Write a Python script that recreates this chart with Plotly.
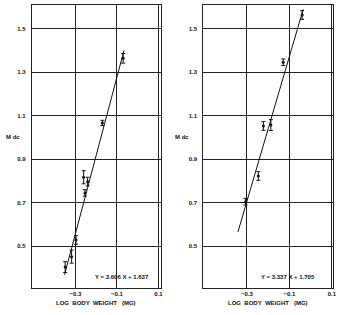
import plotly.graph_objects as go

# Left panel data
left_x = [-0.349, -0.318, -0.297, -0.260, -0.241, -0.254, -0.170, -0.070]
left_y = [0.403, 0.451, 0.528, 0.816, 0.796, 0.744, 1.066, 1.363]
left_err = [0.025, 0.03, 0.02, 0.03, 0.02, 0.015, 0.012, 0.022]
left_slope, left_icpt = 3.606, 1.637
left_line_x = [-0.352, -0.066]

# Right panel data
right_x = [-0.306, -0.246, -0.222, -0.187, -0.129, -0.040]
right_y = [0.704, 0.822, 1.052, 1.056, 1.345, 1.562]
right_err = [0.015, 0.02, 0.02, 0.025, 0.015, 0.02]
right_slope, right_icpt = 3.337, 1.705
right_line_x = [-0.342, -0.035]

x_tickvals = [-0.3, -0.1, 0.1]
x_ticktext = ["\u22120.3", "\u22120.1", "0.1"]
y_tickvals = [0.5, 0.7, 0.9, 1.1, 1.3, 1.5]
y_ticktext = ["0.5", "0.7", "0.9", "1.1", "1.3", "1.5"]

W, H = 338, 315
def px_x(p): return p / W
def px_y(p): return 1 - p / H

fig = go.Figure()

for i, (xs, ys, es, m, b, lx) in enumerate([
        (left_x, left_y, left_err, left_slope, left_icpt, left_line_x),
        (right_x, right_y, right_err, right_slope, right_icpt, right_line_x)]):
    xa = "x" if i == 0 else "x2"
    ya = "y" if i == 0 else "y2"
    fig.add_trace(go.Scatter(
        x=lx, y=[m * v + b for v in lx], mode="lines",
        line=dict(color="#111", width=1), xaxis=xa, yaxis=ya, showlegend=False))
    fig.add_trace(go.Scatter(
        x=xs, y=ys, mode="markers",
        marker=dict(color="#111", size=3),
        error_y=dict(type="data", array=es, color="#111", thickness=1, width=2),
        xaxis=xa, yaxis=ya, showlegend=False))

font_tick = dict(family="Liberation Sans", size=6, color="#111", weight="bold")
axis_common = dict(showgrid=True, gridcolor="#222", gridwidth=1,
                   showline=True, linecolor="#222", linewidth=1, mirror=True,
                   zeroline=False, ticks="", tickfont=font_tick)

fig.update_layout(
    width=W, height=H, margin=dict(l=0, r=0, t=0, b=0),
    paper_bgcolor="white", plot_bgcolor="white",
    xaxis=dict(domain=[px_x(32), px_x(162)], range=[-0.51, 0.11],
               tickvals=x_tickvals, ticktext=x_ticktext, anchor="y", **axis_common),
    yaxis=dict(domain=[px_y(288), px_y(5)], range=[0.307, 1.608],
               tickvals=y_tickvals, ticktext=y_ticktext, anchor="x",
               ticklabelstandoff=4, **axis_common),
    xaxis2=dict(domain=[px_x(205), px_x(336)], range=[-0.505, 0.105],
                tickvals=x_tickvals, ticktext=x_ticktext, anchor="y2", **axis_common),
    yaxis2=dict(domain=[px_y(288), px_y(5)], range=[0.307, 1.608],
                tickvals=y_tickvals, ticktext=y_ticktext, anchor="x2",
                ticklabelstandoff=4, **axis_common),
)

ann_font = dict(family="Liberation Sans", size=6, color="#111", weight="bold")
anns = [
    (13, 137, "M dc"), (184, 137, "M dc"),
    (97, 303, "LOG  BODY  WEIGHT   (MG)"), (270, 303, "LOG  BODY  WEIGHT   (MG)"),
    (123, 277, "Y = 3.606 X + 1.637"), (291, 277, "Y = 3.337 X + 1.705"),
]
for x, y, t in anns:
    fig.add_annotation(x=px_x(x), y=px_y(y), xref="paper", yref="paper",
                       text=t, showarrow=False, font=ann_font,
                       xanchor="center", yanchor="middle")

fig.write_html("out.html")
